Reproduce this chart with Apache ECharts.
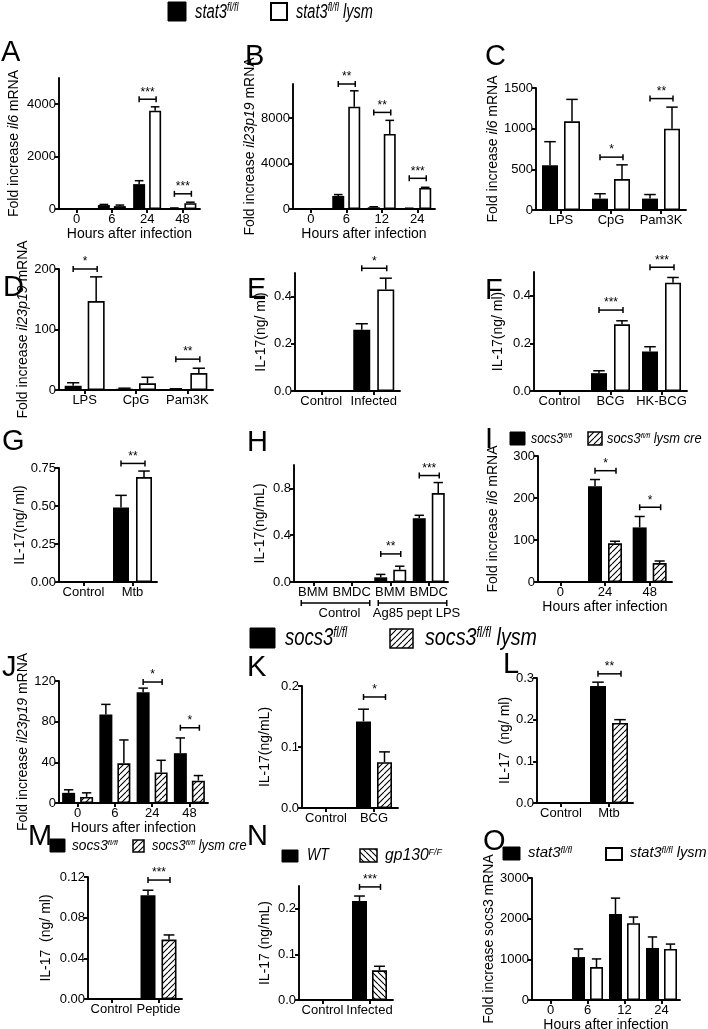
<!DOCTYPE html>
<html><head><meta charset="utf-8">
<script src="https://cdn.jsdelivr.net/npm/echarts@6/dist/echarts.min.js"></script>
<style>html,body{margin:0;padding:0;background:#fff}#c{width:708px;height:1029px}</style>
</head><body><div id="c"></div>
<script>
// ================= DATA =================
const xHours = 'Hours after infection';
// A
const catsA = ['0','6','24','48'];
const aBlack = [0, 150, 950, 30];   const aBlackErr = [0, 25, 130, 10];
const aWhite = [0, 110, 3750, 220]; const aWhiteErr = [0, 40, 150, 40];
const aTicks = [0, 2000, 4000];     const aTickLabels = ['0','2000','4000'];
const aSig = [[2, 4190, '***'], [3, 580, '***']];
// B
const catsB = ['0','6','12','24'];
const bBlack = [0, 1150, 150, 50];   const bBlackErr = [0, 120, 50, 20];
const bWhite = [0, 9000, 6600, 1850]; const bWhiteErr = [0, 1400, 1200, 60];
const bTicks = [0, 4000, 8000];      const bTickLabels = ['0','4000','8000'];
const bSig = [[1, 11000, '**'], [2, 8500, '**'], [3, 2700, '***']];
// C
const catsC = ['LPS','CpG','Pam3K'];
const cBlack = [550, 140, 140];  const cBlackErr = [290, 60, 50];
const cWhite = [1090, 380, 1000]; const cWhiteErr = [270, 175, 265];
const cTicks = [0, 500, 1000, 1500]; const cTickLabels = ['0','500','1000','1500'];
const cSig = [[1, 650, '*'], [2, 1370, '**']];
// D
const catsD = ['LPS','CpG','Pam3K'];
const dBlack = [7, 2, 1];    const dBlackErr = [5, 1, 1];
const dWhite = [147, 11, 28]; const dWhiteErr = [40, 10, 8];
const dTicks = [0, 100, 200]; const dTickLabels = ['0','100','200'];
const dSig = [[0, 200, '*'], [2, 51, '**']];
// E
const catsE = ['Control','Infected'];
const eBlack = [0, 0.26]; const eBlackErr = [0, 0.025];
const eWhite = [0, 0.43]; const eWhiteErr = [0, 0.048];
const eTicks = [0, 0.2, 0.4]; const eTickLabels = ['0.0','0.2','0.4'];
const eSig = [[1, 0.52, '*']];
// F
const catsF = ['Control','BCG','HK-BCG'];
const fBlack = [0, 0.075, 0.166]; const fBlackErr = [0, 0.01, 0.02];
const fWhite = [0, 0.28, 0.455];  const fWhiteErr = [0, 0.015, 0.022];
const fTicks = [0, 0.2, 0.4]; const fTickLabels = ['0.0','0.2','0.4'];
const fSig = [[1, 0.34, '***'], [2, 0.52, '***']];
// G
const catsG = ['Control','Mtb'];
const gBlack = [0, 0.49]; const gBlackErr = [0, 0.08];
const gWhite = [0, 0.69]; const gWhiteErr = [0, 0.04];
const gTicks = [0, 0.25, 0.5, 0.75]; const gTickLabels = ['0.00','0.25','0.50','0.75'];
const gSig = [[1, 0.78, '**']];
// H
const catsH = ['BMM','BMDC','BMM','BMDC'];
const hGroups = [[0, 1, 'Control'], [2, 3, 'Ag85 pept LPS']];
const hBlack = [0, 0, 0.04, 0.545]; const hBlackErr = [0, 0, 0.025, 0.025];
const hWhite = [0, 0, 0.105, 0.76]; const hWhiteErr = [0, 0, 0.03, 0.09];
const hTicks = [0, 0.4, 0.8]; const hTickLabels = ['0.0','0.4','0.8'];
const hSig = [[2, 0.24, '**'], [3, 0.91, '***']];
// I
const catsI = ['0','24','48'];
const iBlack = [1, 228, 130]; const iBlackErr = [0, 16, 26];
const iHatch = [1, 92, 45];   const iHatchErr = [0, 5, 5];
const iTicks = [0, 100, 200, 300]; const iTickLabels = ['0','100','200','300'];
const iSig = [[1, 265, '*'], [2, 178, '*']];
// J
const catsJ = ['0','6','24','48'];
const jBlack = [10, 87, 109, 49]; const jBlackErr = [3, 10, 4, 15];
const jHatch = [6, 39, 30, 22];   const jHatchErr = [4, 23, 12, 5];
const jTicks = [0, 40, 80, 120]; const jTickLabels = ['0','40','80','120'];
const jSig = [[2, 119, '*'], [3, 74, '*']];
// K
const catsK = ['Control','BCG'];
const kBlack = [0, 0.142]; const kBlackErr = [0, 0.02];
const kHatch = [0, 0.075]; const kHatchErr = [0, 0.017];
const kTicks = [0, 0.1, 0.2]; const kTickLabels = ['0.0','0.1','0.2'];
const kSig = [[1, 0.182, '*']];
// L
const catsL = ['Control','Mtb'];
const lBlack = [0, 0.281]; const lBlackErr = [0, 0.009];
const lHatch = [0, 0.192]; const lHatchErr = [0, 0.008];
const lTicks = [0, 0.1, 0.2, 0.3]; const lTickLabels = ['0.0','0.1','0.2','0.3'];
const lSig = [[1, 0.31, '**']];
// M
const catsM = ['Control','Peptide'];
const mBlack = [0, 0.102];  const mBlackErr = [0, 0.005];
const mHatch = [0, 0.0585]; const mHatchErr = [0, 0.0045];
const mTicks = [0, 0.04, 0.08, 0.12]; const mTickLabels = ['0.00','0.04','0.08','0.12'];
const mSig = [[1, 0.117, '***']];
// N
const catsN = ['Control','Infected'];
const nBlack = [0, 0.217]; const nBlackErr = [0, 0.011];
const nHatch = [0, 0.065]; const nHatchErr = [0, 0.009];
const nTicks = [0, 0.1, 0.2]; const nTickLabels = ['0.0','0.1','0.2'];
const nSig = [[1, 0.248, '***']];
// O
const catsO = ['0','6','12','24'];
const oBlack = [0, 1055, 2115, 1280]; const oBlackErr = [0, 200, 390, 270];
const oWhite = [0, 810, 1890, 1255];  const oWhiteErr = [0, 200, 150, 120];
const oTicks = [0, 1000, 2000, 3000]; const oTickLabels = ['0','1000','2000','3000'];
const oSig = [];

// ================= STYLE / LAYOUT =================
const FONT = '"Liberation Sans", Arial, sans-serif';

function hatch(dir) {
  const s = 6;
  const c = document.createElement('canvas'); c.width = s; c.height = s;
  const g = c.getContext('2d');
  g.fillStyle = '#fff'; g.fillRect(0, 0, s, s);
  g.strokeStyle = '#000'; g.lineWidth = 1.1;
  g.beginPath();
  for (let k = -1; k <= 1; k++) {
    if (dir > 0) { g.moveTo(k * s, s); g.lineTo(k * s + s, 0); }
    else { g.moveTo(k * s, 0); g.lineTo(k * s + s, s); }
  }
  g.stroke();
  return c;
}
const PAT1 = {image: hatch(1), repeat: 'repeat'};
const PAT2 = {image: hatch(-1), repeat: 'repeat'};
const STY = {
  black: {color: '#000'},
  white: {color: '#fff', borderColor: '#000', borderWidth: 1.6},
  hatch: {color: PAT1, borderColor: '#000', borderWidth: 1.6},
  hatch2: {color: PAT2, borderColor: '#000', borderWidth: 1.6}
};

const panels = [
 {lab:'A', lp:[1,43], rect:[59,78,200,209], max:5000, ticks:aTicks, tl:aTickLabels, cats:catsA, s:[[aBlack,aBlackErr,'black'],[aWhite,aWhiteErr,'white']], sig:aSig, bw:12, gap:4, yName:'Fold increase {i|il6} mRNA', yGap:38, xName:xHours},
 {lab:'B', lp:[245,47], rect:[293,84,435,209], max:11000, ticks:bTicks, tl:bTickLabels, cats:catsB, s:[[bBlack,bBlackErr,'black'],[bWhite,bWhiteErr,'white']], sig:bSig, bw:12, gap:4, yName:'Fold increase {i|il23p19} mRNA', yGap:35, xName:xHours},
 {lab:'C', lp:[485,47], rect:[536,88,686,210], max:1500, ticks:cTicks, tl:cTickLabels, cats:catsC, s:[[cBlack,cBlackErr,'black'],[cWhite,cWhiteErr,'white']], sig:cSig, bw:16, gap:6, yName:'Fold increase {i|il6} mRNA', yGap:34},
 {lab:'D', lp:[3,278], rect:[59,269,213,390], max:200, ticks:dTicks, tl:dTickLabels, cats:catsD, s:[[dBlack,dBlackErr,'black'],[dWhite,dWhiteErr,'white']], sig:dSig, bw:17, gap:6, yName:'Fold increase {i|il23p19} mRNA', yGap:27},
 {lab:'E', lp:[247,280], rect:[295,273,400,391], max:0.5, ticks:eTicks, tl:eTickLabels, cats:catsE, s:[[eBlack,eBlackErr,'black'],[eWhite,eWhiteErr,'white']], sig:eSig, bw:17, gap:7, yName:'IL-17(ng/ ml)', yGap:27},
 {lab:'F', lp:[485,281], rect:[534,272,687,391], max:0.5, ticks:fTicks, tl:fTickLabels, cats:catsF, s:[[fBlack,fBlackErr,'black'],[fWhite,fWhiteErr,'white']], sig:fSig, bw:16, gap:7, yName:'IL-17(ng/ ml)', yGap:29},
 {lab:'G', lp:[2,432], rect:[59,468,157,582], max:0.75, ticks:gTicks, tl:gTickLabels, cats:catsG, s:[[gBlack,gBlackErr,'black'],[gWhite,gWhiteErr,'white']], sig:gSig, bw:16, gap:7, yName:'IL-17(ng/ ml)', yGap:32},
 {lab:'H', lp:[247,433], rect:[294,465,448,582], max:1.0, ticks:hTicks, tl:hTickLabels, cats:catsH, s:[[hBlack,hBlackErr,'black'],[hWhite,hWhiteErr,'white']], sig:hSig, bw:13, gap:6, yName:'IL-17(ng/mL)', yGap:27, groups:hGroups},
 {lab:'I', lp:[485,430], rect:[538,456,672,582], max:300, ticks:iTicks, tl:iTickLabels, cats:catsI, s:[[iBlack,iBlackErr,'black'],[iHatch,iHatchErr,'hatch']], sig:iSig, bw:14, gap:6, yName:'Fold increase {i|il6} mRNA', yGap:38, xName:xHours},
 {lab:'J', lp:[2,658], rect:[59,681,208,803], max:120, ticks:jTicks, tl:jTickLabels, cats:catsJ, s:[[jBlack,jBlackErr,'black'],[jHatch,jHatchErr,'hatch']], sig:jSig, bw:13, gap:5, yName:'Fold increase {i|il23p19} mRNA', yGap:27, xName:xHours},
 {lab:'K', lp:[247,658], rect:[302,686,398,808], max:0.2, ticks:kTicks, tl:kTickLabels, cats:catsK, s:[[kBlack,kBlackErr,'black'],[kHatch,kHatchErr,'hatch']], sig:kSig, bw:15, gap:6, yName:'IL-17(ng/mL)', yGap:30},
 {lab:'L', lp:[503,655], rect:[537,678,633,803], max:0.3, ticks:lTicks, tl:lTickLabels, cats:catsL, s:[[lBlack,lBlackErr,'black'],[lHatch,lHatchErr,'hatch']], sig:lSig, bw:16, gap:6, yName:'IL-17  (ng/ ml)', yGap:25},
 {lab:'M', lp:[28,827], rect:[88,877,182,999], max:0.12, ticks:mTicks, tl:mTickLabels, cats:catsM, s:[[mBlack,mBlackErr,'black'],[mHatch,mHatchErr,'hatch']], sig:mSig, bw:15, gap:6, yName:'IL-17  (ng/ ml)', yGap:35},
 {lab:'N', lp:[247,827], rect:[299,886,393,1000], max:0.25, ticks:nTicks, tl:nTickLabels, cats:catsN, s:[[nBlack,nBlackErr,'black'],[nHatch,nHatchErr,'hatch2']], sig:nSig, bw:15, gap:5, yName:'IL-17 (ng/mL)', yGap:27},
 {lab:'O', lp:[483,832], rect:[532,878,680,1000], max:3000, ticks:oTicks, tl:oTickLabels, cats:catsO, s:[[oBlack,oBlackErr,'black'],[oWhite,oWhiteErr,'white']], sig:oSig, bw:13, gap:5, yName:'Fold increase socs3 mRNA', yGap:32, xName:xHours}
];

const grid = [], xAxis = [], yAxis = [], series = [], graphic = [];
const LINE = {stroke: '#000', lineWidth: 1.5};
const AXW = 1.9;

panels.forEach((p, k) => {
  const [x0, y0, x1, y1] = p.rect;
  grid.push({left: x0, top: y0, width: x1 - x0, height: y1 - y0, containLabel: false, outerBoundsMode: 'none'});
  xAxis.push({
    type: 'category', gridIndex: k, data: p.cats,
    axisLine: {show: true, lineStyle: {color: '#000', width: AXW}},
    axisTick: {show: true, alignWithLabel: true, length: 4, lineStyle: {color: '#000', width: AXW}},
    axisLabel: {interval: 0, color: '#000', fontSize: 13, fontFamily: FONT, margin: 4},
    splitLine: {show: false},
    name: p.xName || '', nameLocation: 'middle', nameGap: 17,
    nameTextStyle: {color: '#000', fontSize: 14, fontFamily: FONT}
  });
  yAxis.push({
    type: 'value', gridIndex: k, min: 0, max: p.max,
    axisLine: {show: true, lineStyle: {color: '#000', width: AXW}},
    axisTick: {show: true, length: 4, lineStyle: {color: '#000', width: AXW}, customValues: p.ticks},
    axisLabel: {color: '#000', fontSize: 13, fontFamily: FONT, margin: 3, customValues: p.ticks,
      formatter: v => { const i = p.ticks.findIndex(t => Math.abs(t - v) < 1e-9); return i >= 0 ? p.tl[i] : ''; }},
    splitLine: {show: false},
    name: p.yName, nameLocation: 'middle', nameRotate: 90, nameGap: p.yGap,
    nameTextStyle: {color: '#000', fontSize: 14, fontFamily: FONT,
      rich: {i: {fontStyle: 'italic', fontSize: 14, fontFamily: FONT, color: '#000'}}}
  });
  const n = p.s.length;
  p.s.forEach(([vals, errs, sty], j) => {
    series.push({type: 'bar', xAxisIndex: k, yAxisIndex: k, data: vals, barWidth: p.bw,
      barGap: (p.gap / p.bw * 100) + '%', itemStyle: STY[sty], silent: true, animation: false, z: 2});
    const off = (j - (n - 1) / 2) * (p.bw + p.gap);
    series.push({type: 'custom', xAxisIndex: k, yAxisIndex: k, z: 3, silent: true, animation: false,
      encode: {x: 0, y: 1},
      data: vals.map((v, i) => [i, v, errs[i]]),
      renderItem: (params, api) => {
        const i = api.value(0), v = api.value(1), e = api.value(2);
        if (!e) return null;
        const b = api.coord([i, v]), t = api.coord([i, v + e]);
        const x = b[0] + off, cap = p.bw * 0.36;
        return {type: 'group', children: [
          {type: 'line', shape: {x1: x, y1: b[1], x2: x, y2: t[1]}, style: LINE},
          {type: 'line', shape: {x1: x - cap, y1: t[1], x2: x + cap, y2: t[1]}, style: LINE}
        ]};
      }});
  });
  if (p.sig.length) {
    const off = (p.bw + p.gap) / 2;
    series.push({type: 'custom', xAxisIndex: k, yAxisIndex: k, z: 4, silent: true, animation: false, clip: false,
      encode: {x: 0, y: 1},
      data: p.sig.map(s => [s[0], s[1]]),
      renderItem: (params, api) => {
        const c = api.coord([api.value(0), api.value(1)]);
        const xa = c[0] - off, xb = c[0] + off + 1, yy = c[1];
        return {type: 'group', children: [
          {type: 'line', shape: {x1: xa, y1: yy, x2: xb, y2: yy}, style: LINE},
          {type: 'line', shape: {x1: xa, y1: yy - 3, x2: xa, y2: yy + 3}, style: LINE},
          {type: 'line', shape: {x1: xb, y1: yy - 3, x2: xb, y2: yy + 3}, style: LINE},
          {type: 'text', style: {text: p.sig[params.dataIndex][2], x: (xa + xb) / 2, y: yy - 1,
            textAlign: 'center', textVerticalAlign: 'bottom', align: 'center', verticalAlign: 'bottom',
            fontSize: 12, fontFamily: FONT, fill: '#000'}}
        ]};
      }});
  }
  if (p.groups) {
    series.push({type: 'custom', xAxisIndex: k, yAxisIndex: k, z: 4, silent: true, animation: false, clip: false,
      encode: {x: 0, y: 1},
      data: p.groups.map(g => [g[0], 0, g[1]]),
      renderItem: (params, api) => {
        const a = api.coord([api.value(0), 0]), b = api.coord([api.value(2), 0]);
        const xa = a[0] - 12, xb = b[0] + 18, yy = a[1] + 21;
        return {type: 'group', children: [
          {type: 'line', shape: {x1: xa, y1: yy, x2: xb, y2: yy}, style: LINE},
          {type: 'line', shape: {x1: xa, y1: yy - 3, x2: xa, y2: yy + 3}, style: LINE},
          {type: 'line', shape: {x1: xb, y1: yy - 3, x2: xb, y2: yy + 3}, style: LINE},
          {type: 'text', style: {text: p.groups[params.dataIndex][2], x: (xa + xb) / 2 + 4, y: yy + 4,
            textAlign: 'center', textVerticalAlign: 'top', align: 'center', verticalAlign: 'top',
            fontSize: 13, fontFamily: FONT, fill: '#000'}}
        ]};
      }});
  }
  graphic.push({type: 'text', x: p.lp[0], y: p.lp[1] - 5, silent: true,
    style: {text: p.lab, fontSize: 29, fontFamily: FONT, fill: '#000', textVerticalAlign: 'top', verticalAlign: 'top'}});
});

// ---- legends ----
function legendBox(kind, x, y, w, h) {
  const st = {black: {fill: '#000', stroke: '#000', lineWidth: 1},
              white: {fill: '#fff', stroke: '#000', lineWidth: 2},
              hatch: {fill: PAT1, stroke: '#000', lineWidth: 1.5},
              hatch2: {fill: PAT2, stroke: '#000', lineWidth: 1.5}}[kind];
  graphic.push({type: 'rect', silent: true, shape: {x: x, y: y, width: w, height: h}, style: st});
}
function legendText(text, x, y, size, sx) {
  graphic.push({type: 'text', x: x, y: y, scaleX: sx, scaleY: 1, silent: true,
    style: {text: text, x: 0, y: 0, fontSize: size, fontFamily: FONT, fontStyle: 'italic', fill: '#000',
      textVerticalAlign: 'middle', verticalAlign: 'middle',
      rich: {sup: {fontSize: Math.round(size * 0.58), fontFamily: FONT, fontStyle: 'italic', verticalAlign: 'top', fill: '#000'}}}});
}
// top legend
legendBox('black', 168, 2, 18, 19);   legendText('stat3{sup|fl/fl}', 195, 12, 20, 0.74);
legendBox('white', 271, 3, 16, 17);   legendText('stat3{sup|fl/fl} lysm', 296, 12, 20, 0.73);
// I legend
legendBox('black', 510, 432, 15, 13); legendText('socs3{sup|fl/fl}', 531, 439, 14, 0.88);
legendBox('hatch', 588, 432, 14, 13); legendText('socs3{sup|fl/fl} lysm cre', 607, 439, 14, 0.92);
// middle legend
legendBox('black', 250, 628, 25, 20); legendText('socs3{sup|fl/fl}', 285, 638, 24, 0.77);
legendBox('hatch', 390, 629, 23, 19); legendText('socs3{sup|fl/fl} lysm', 425, 638, 24, 0.82);
// M legend
legendBox('black', 50, 839, 15, 13);  legendText('socs3{sup|fl/fl}', 72, 846, 14, 0.98);
legendBox('hatch', 133, 840, 11, 12); legendText('socs3{sup|fl/fl} lysm cre', 152, 846, 14, 0.92);
// N legend
legendBox('black', 282, 850, 16, 12); legendText('WT', 307, 856, 16, 0.88);
legendBox('hatch2', 360, 849, 17, 13); legendText('gp130{sup|F/F}', 385, 856, 16, 0.98);
// O legend
legendBox('black', 503, 847, 17, 13); legendText('stat3{sup|fl/fl}', 528, 853, 15, 1.0);
legendBox('white', 606, 848, 16, 12); legendText('stat3{sup|fl/fl} lysm', 630, 853, 15, 0.97);

const chart = echarts.init(document.getElementById('c'), null, {renderer: 'canvas'});
chart.setOption({animation: false, backgroundColor: '#fff', grid, xAxis, yAxis, series, graphic});
</script></body></html>
